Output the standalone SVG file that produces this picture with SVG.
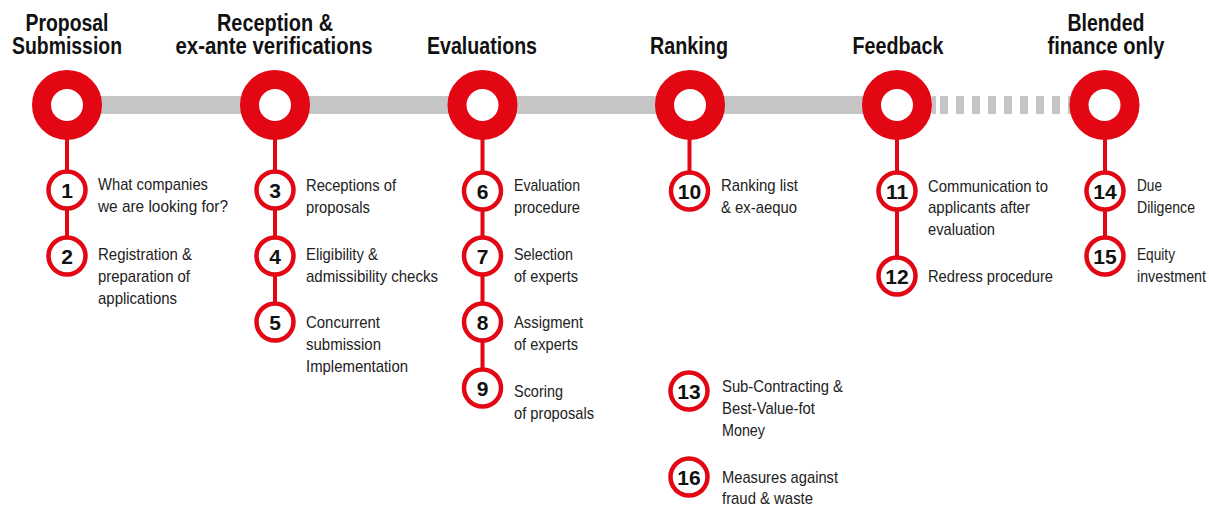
<svg xmlns="http://www.w3.org/2000/svg" width="1209" height="507" viewBox="0 0 1209 507">
<style>
.h{font-family:"Liberation Sans",Arial,sans-serif;font-weight:bold;font-size:23.5px;fill:#111;text-anchor:middle}
.t{font-family:"Liberation Sans",Arial,sans-serif;font-size:17px;fill:#222}
.n{font-family:"Liberation Sans",Arial,sans-serif;font-weight:bold;font-size:21px;fill:#111;text-anchor:middle}
.big{fill:#fff;stroke:#e30613;stroke-width:19}
.sm{fill:#fff;stroke:#e30613;stroke-width:4.5}
.stem{stroke:#e30613;stroke-width:4;fill:none}
.bar{fill:#c6c6c6}
</style>
<rect width="1209" height="507" fill="#fff"/>
<g id="connectors">
<rect class="bar" x="67" y="96" width="830" height="18"/>
<rect class="bar" x="932" y="96" width="4" height="18"/>
<rect class="bar" x="940" y="96" width="8" height="18"/>
<rect class="bar" x="956" y="96" width="8" height="18"/>
<rect class="bar" x="972" y="96" width="8" height="18"/>
<rect class="bar" x="988" y="96" width="8" height="18"/>
<rect class="bar" x="1004" y="96" width="8" height="18"/>
<rect class="bar" x="1020" y="96" width="8" height="18"/>
<rect class="bar" x="1036" y="96" width="8" height="18"/>
<rect class="bar" x="1052" y="96" width="8" height="18"/>
<rect class="bar" x="1068" y="96" width="8" height="18"/>
<line class="stem" x1="67" y1="105" x2="67" y2="256"/>
<line class="stem" x1="275" y1="105" x2="275" y2="322"/>
<line class="stem" x1="482.5" y1="105" x2="482.5" y2="388"/>
<line class="stem" x1="689.5" y1="105" x2="689.5" y2="191"/>
<line class="stem" x1="897" y1="105" x2="897" y2="276"/>
<line class="stem" x1="1105" y1="105" x2="1105" y2="256"/>
</g>
<g id="stage-proposal-submission">
<circle class="big" cx="67" cy="105" r="25.5"/>
<text class="h" x="67" y="31" textLength="83" lengthAdjust="spacingAndGlyphs">Proposal</text>
<text class="h" x="67" y="54" textLength="110" lengthAdjust="spacingAndGlyphs">Submission</text>
</g>
<g id="stage-reception">
<circle class="big" cx="275" cy="105" r="25.5"/>
<text class="h" x="275" y="31" textLength="116" lengthAdjust="spacingAndGlyphs">Reception &amp;</text>
<text class="h" x="274" y="54" textLength="197" lengthAdjust="spacingAndGlyphs">ex-ante verifications</text>
</g>
<g id="stage-evaluations">
<circle class="big" cx="482.5" cy="105" r="25.5"/>
<text class="h" x="482" y="54" textLength="110" lengthAdjust="spacingAndGlyphs">Evaluations</text>
</g>
<g id="stage-ranking">
<circle class="big" cx="690" cy="105" r="25.5"/>
<text class="h" x="689" y="54" textLength="78" lengthAdjust="spacingAndGlyphs">Ranking</text>
</g>
<g id="stage-feedback">
<circle class="big" cx="897" cy="105" r="25.5"/>
<text class="h" x="898" y="54" textLength="91" lengthAdjust="spacingAndGlyphs">Feedback</text>
</g>
<g id="stage-blended">
<circle class="big" cx="1104.5" cy="105" r="25.5"/>
<text class="h" x="1106" y="31" textLength="77" lengthAdjust="spacingAndGlyphs">Blended</text>
<text class="h" x="1106" y="54" textLength="117" lengthAdjust="spacingAndGlyphs">finance only</text>
</g>
<g id="step-1">
<circle class="sm" cx="67" cy="190" r="18.5"/>
<text class="n" x="67" y="197.5">1</text>
<text class="t" x="98" y="190" textLength="110" lengthAdjust="spacingAndGlyphs">What companies</text>
<text class="t" x="98" y="212" textLength="130" lengthAdjust="spacingAndGlyphs">we are looking for?</text>
</g>
<g id="step-2">
<circle class="sm" cx="67" cy="256" r="18.5"/>
<text class="n" x="67" y="263.5">2</text>
<text class="t" x="98" y="260" textLength="94" lengthAdjust="spacingAndGlyphs">Registration &amp;</text>
<text class="t" x="98" y="282" textLength="92" lengthAdjust="spacingAndGlyphs">preparation of</text>
<text class="t" x="98" y="304" textLength="79" lengthAdjust="spacingAndGlyphs">applications</text>
</g>
<g id="step-3">
<circle class="sm" cx="275" cy="190" r="18.5"/>
<text class="n" x="275" y="197.5">3</text>
<text class="t" x="306" y="191" textLength="90" lengthAdjust="spacingAndGlyphs">Receptions of</text>
<text class="t" x="306" y="213" textLength="64" lengthAdjust="spacingAndGlyphs">proposals</text>
</g>
<g id="step-4">
<circle class="sm" cx="275" cy="256" r="18.5"/>
<text class="n" x="275" y="263.5">4</text>
<text class="t" x="306" y="260" textLength="72" lengthAdjust="spacingAndGlyphs">Eligibility &amp;</text>
<text class="t" x="306" y="282" textLength="132" lengthAdjust="spacingAndGlyphs">admissibility checks</text>
</g>
<g id="step-5">
<circle class="sm" cx="275" cy="322" r="18.5"/>
<text class="n" x="275" y="329.5">5</text>
<text class="t" x="306" y="328" textLength="74" lengthAdjust="spacingAndGlyphs">Concurrent</text>
<text class="t" x="306" y="350" textLength="75" lengthAdjust="spacingAndGlyphs">submission</text>
<text class="t" x="306" y="372" textLength="102" lengthAdjust="spacingAndGlyphs">Implementation</text>
</g>
<g id="step-6">
<circle class="sm" cx="482.5" cy="191" r="18.5"/>
<text class="n" x="482.5" y="198.5">6</text>
<text class="t" x="514" y="191" textLength="66" lengthAdjust="spacingAndGlyphs">Evaluation</text>
<text class="t" x="514" y="213" textLength="66" lengthAdjust="spacingAndGlyphs">procedure</text>
</g>
<g id="step-7">
<circle class="sm" cx="482.5" cy="256" r="18.5"/>
<text class="n" x="482.5" y="263.5">7</text>
<text class="t" x="514" y="260" textLength="59" lengthAdjust="spacingAndGlyphs">Selection</text>
<text class="t" x="514" y="282" textLength="64" lengthAdjust="spacingAndGlyphs">of experts</text>
</g>
<g id="step-8">
<circle class="sm" cx="482.5" cy="322" r="18.5"/>
<text class="n" x="482.5" y="329.5">8</text>
<text class="t" x="514" y="328" textLength="69" lengthAdjust="spacingAndGlyphs">Assigment</text>
<text class="t" x="514" y="350" textLength="64" lengthAdjust="spacingAndGlyphs">of experts</text>
</g>
<g id="step-9">
<circle class="sm" cx="482.5" cy="388" r="18.5"/>
<text class="n" x="482.5" y="395.5">9</text>
<text class="t" x="514" y="397" textLength="49" lengthAdjust="spacingAndGlyphs">Scoring</text>
<text class="t" x="514" y="419" textLength="80" lengthAdjust="spacingAndGlyphs">of proposals</text>
</g>
<g id="step-10">
<circle class="sm" cx="689.5" cy="191" r="18.5"/>
<text class="n" x="689.5" y="198.5">10</text>
<text class="t" x="721" y="191" textLength="77" lengthAdjust="spacingAndGlyphs">Ranking list</text>
<text class="t" x="721" y="213" textLength="76" lengthAdjust="spacingAndGlyphs">&amp; ex-aequo</text>
</g>
<g id="step-13">
<circle class="sm" cx="689" cy="391" r="18.5"/>
<text class="n" x="689" y="398.5">13</text>
<text class="t" x="722" y="392" textLength="121" lengthAdjust="spacingAndGlyphs">Sub-Contracting &amp;</text>
<text class="t" x="722" y="414" textLength="93" lengthAdjust="spacingAndGlyphs">Best-Value-fot</text>
<text class="t" x="722" y="436" textLength="43" lengthAdjust="spacingAndGlyphs">Money</text>
</g>
<g id="step-16">
<circle class="sm" cx="689" cy="477" r="18.5"/>
<text class="n" x="689" y="484.5">16</text>
<text class="t" x="722" y="483" textLength="116" lengthAdjust="spacingAndGlyphs">Measures against</text>
<text class="t" x="722" y="504" textLength="91" lengthAdjust="spacingAndGlyphs">fraud &amp; waste</text>
</g>
<g id="step-11">
<circle class="sm" cx="897" cy="191" r="18.5"/>
<text class="n" x="897" y="198.5">11</text>
<text class="t" x="928" y="192" textLength="120" lengthAdjust="spacingAndGlyphs">Communication to</text>
<text class="t" x="928" y="213" textLength="102" lengthAdjust="spacingAndGlyphs">applicants after</text>
<text class="t" x="928" y="235" textLength="67" lengthAdjust="spacingAndGlyphs">evaluation</text>
</g>
<g id="step-12">
<circle class="sm" cx="897" cy="276" r="18.5"/>
<text class="n" x="897" y="283.5">12</text>
<text class="t" x="928" y="282" textLength="125" lengthAdjust="spacingAndGlyphs">Redress procedure</text>
</g>
<g id="step-14">
<circle class="sm" cx="1105" cy="191" r="18.5"/>
<text class="n" x="1105" y="198.5">14</text>
<text class="t" x="1137" y="191" textLength="25" lengthAdjust="spacingAndGlyphs">Due</text>
<text class="t" x="1137" y="213" textLength="58" lengthAdjust="spacingAndGlyphs">Diligence</text>
</g>
<g id="step-15">
<circle class="sm" cx="1105" cy="256" r="18.5"/>
<text class="n" x="1105" y="263.5">15</text>
<text class="t" x="1137" y="260" textLength="38" lengthAdjust="spacingAndGlyphs">Equity</text>
<text class="t" x="1137" y="282" textLength="69" lengthAdjust="spacingAndGlyphs">investment</text>
</g>
</svg>
